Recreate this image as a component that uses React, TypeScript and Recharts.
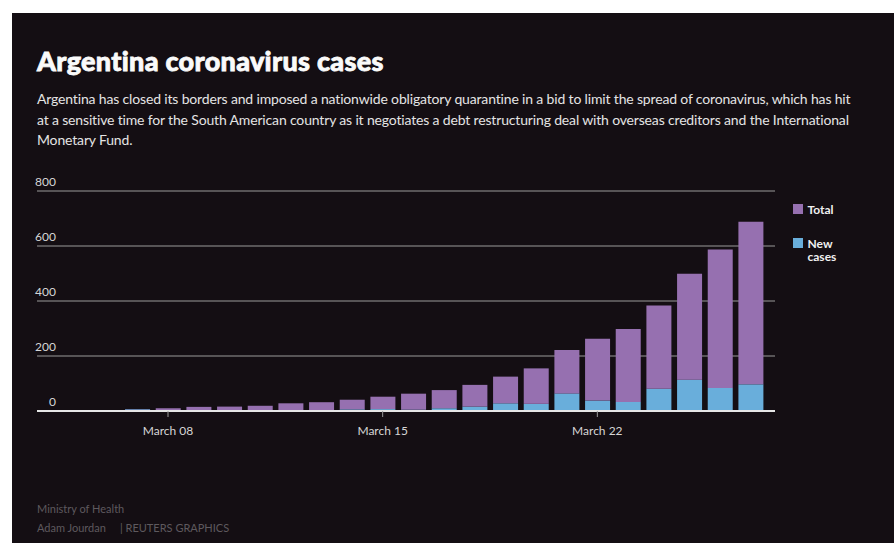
import React from "react";
import { BarChart, Bar, XAxis, YAxis, CartesianGrid } from "recharts";

const days = [
	"March 07", "March 08", "March 09", "March 10", "March 11", "March 12", "March 13",
	"March 14", "March 15", "March 16", "March 17", "March 18", "March 19", "March 20",
	"March 21", "March 22", "March 23", "March 24", "March 25", "March 26", "March 27",
];
const totalCases = [7, 10, 15, 16, 19, 28, 32, 41, 52, 63, 76, 95, 125, 155, 222, 263, 298, 384, 499, 587, 688];
const newCases = [6, 1, 1, 1, 1, 3, 2, 6, 7, 5, 10, 16, 28, 26, 64, 38, 33, 81, 114, 84, 97];
const labelledDays = ["March 08", "March 15", "March 22"];
const yTicks = [0, 200, 400, 600, 800];

const PURPLE = "#9670b0";
const BLUE = "#69aedb";
const BG = "#140e13";
const FONT = "Lato, 'Open Sans', sans-serif";

// the purple part sits on top of the new cases, so its top is the total
const data = days.map((day, i) => ({
	day,
	newCases: newCases[i],
	rest: totalCases[i] - newCases[i],
}));

const subtitleLines = [
	"Argentina has closed its borders and imposed a nationwide obligatory quarantine in a bid to limit the spread of coronavirus, which has hit",
	"at a sensitive time for the South American country as it negotiates a debt restructuring deal with overseas creditors and the International",
	"Monetary Fund.",
];

const YTick = (props: any) => {
	const { y, payload } = props;
	return (
		<text x={56} y={y - 5} textAnchor="end" fill="#d6d6d6" fontSize={12} fontFamily={FONT}>
			{payload.value}
		</text>
	);
};

const XTick = (props: any) => {
	const { x, y, payload } = props;
	if (!labelledDays.includes(payload.value)) return <g />;
	return (
		<g>
			<line x1={x} x2={x} y1={y} y2={y + 6} stroke="#9a9a9a" strokeWidth={1} />
			<text x={x} y={y + 24} textAnchor="middle" fill="#d6d6d6" fontSize={12} fontFamily={FONT}>
				{payload.value}
			</text>
		</g>
	);
};

const App = () => {
	return (
		<div style={{ position: "absolute", left: 0, top: 0, width: 894, height: 543, background: "#fff", fontFamily: FONT }}>
			<div style={{ position: "absolute", left: 12, top: 13, width: 882, height: 530, background: BG }} />
			<div
				style={{
					position: "absolute",
					left: 37,
					top: 48,
					fontSize: 27,
					lineHeight: "26px",
					fontWeight: 900,
					letterSpacing: 0.3,
					WebkitTextStroke: "0.8px #fafafa",
					color: "#fafafa",
					whiteSpace: "nowrap",
				}}
			>
				Argentina coronavirus cases
			</div>
			{subtitleLines.map((line, i) => (
				<div
					key={i}
					style={{
						position: "absolute",
						left: 37,
						top: 92 + i * 20.5,
						fontSize: 14,
						lineHeight: "14px",
						letterSpacing: -0.16,
						color: "#e4e4e4",
						whiteSpace: "nowrap",
					}}
				>
					{line}
				</div>
			))}
			<BarChart
				width={894}
				height={543}
				data={data}
				margin={{ top: 191, right: 119, bottom: 102, left: 17 }}
				barCategoryGap="10%"
				style={{ position: "absolute", left: 0, top: 0 }}
			>
				<CartesianGrid vertical={false} stroke="#6e6c6e" strokeWidth={1.5} />
				<XAxis
					dataKey="day"
					height={30}
					interval={0}
					padding={{ left: 85, right: 9 }}
					axisLine={{ stroke: "#e6e6e6", strokeWidth: 2 }}
					tickLine={false}
					tickSize={0}
					tickMargin={0}
					tick={<XTick />}
				/>
				<YAxis
					width={20}
					domain={[0, 800]}
					ticks={yTicks}
					interval={0}
					axisLine={false}
					tickLine={false}
					tickSize={0}
					tickMargin={0}
					tick={<YTick />}
				/>
				<Bar dataKey="newCases" stackId="a" fill={BLUE} isAnimationActive={false} />
				<Bar dataKey="rest" stackId="a" fill={PURPLE} isAnimationActive={false} />
			</BarChart>
			<div style={{ position: "absolute", left: 793, top: 203, color: "#f0f0f0", fontSize: 12, fontWeight: 700, lineHeight: "13.5px" }}>
				<div style={{ display: "flex", alignItems: "flex-start" }}>
					<div style={{ width: 9.5, height: 10, background: PURPLE, marginRight: 5, marginTop: 1 }} />
					<div>Total</div>
				</div>
				<div style={{ display: "flex", alignItems: "flex-start", marginTop: 20 }}>
					<div style={{ width: 9.5, height: 10, background: BLUE, marginRight: 5, marginTop: 1 }} />
					<div>
						New
						<br />
						cases
					</div>
				</div>
			</div>
			<div style={{ position: "absolute", left: 37, top: 499, color: "#5e595e", fontSize: 11, lineHeight: "19px", whiteSpace: "nowrap" }}>
				<div>Ministry of Health</div>
				<div>
					Adam Jourdan&nbsp;&nbsp;&nbsp;&nbsp;&nbsp;| REUTERS GRAPHICS
				</div>
			</div>
		</div>
	);
};

export default App;
